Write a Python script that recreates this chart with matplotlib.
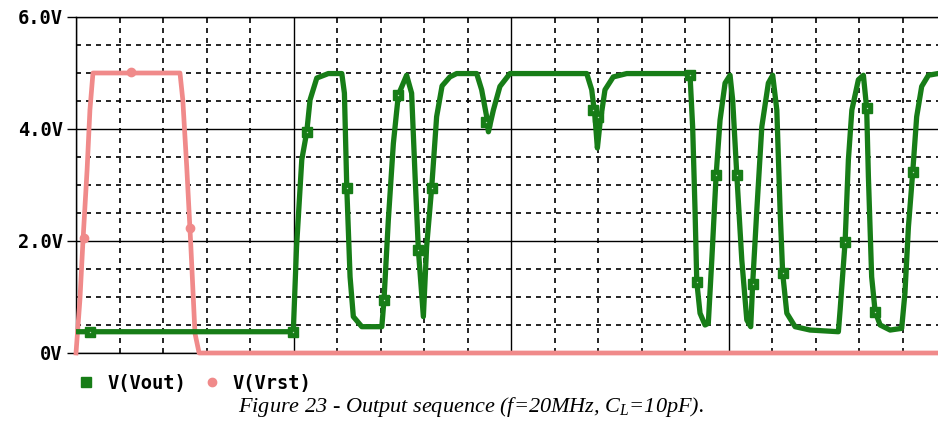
import numpy as np
import matplotlib
matplotlib.use("Agg")
import matplotlib.pyplot as plt
from matplotlib.ticker import MultipleLocator
from matplotlib.lines import Line2D

plt.rcParams['mathtext.fontset'] = 'custom'
plt.rcParams['mathtext.it'] = 'Liberation Serif:italic'
plt.rcParams['mathtext.rm'] = 'Liberation Serif:italic'

# time in ns, voltage in V
vout_t = [0, 99.9, 101.4, 103.8, 106.1, 107.6, 110.7, 116.0, 122.2, 123.4, 124.5, 126.0, 127.5,
          131.4, 140.6, 141.6, 143.6, 145.9, 148.2, 152.0, 154.3, 155.9, 157.4, 159.7, 161.2,
          163.5, 165.8, 168.3, 171.9, 175.0, 184.2, 186.5, 188.8, 189.6, 191.9, 194.9, 199.5,
          234.8, 237.1, 238.6, 239.7, 240.9, 243.2, 247.0, 253.2, 280.0, 282.3, 283.5, 284.6,
          285.4, 286.9, 289.2, 290.7, 292.3, 294.3, 296.1, 298.4, 300.7, 301.9, 303.8, 306.1,
          308.4, 310.2, 311.1, 313.0, 315.3, 318.3, 320.3, 322.2, 323.7, 324.9, 326.8, 330.6,
          337.5, 350.5, 351.3, 353.6, 355.1, 356.7, 359.7, 362.0, 363.5, 364.3, 365.8, 367.4,
          369.7, 374.3, 379.6, 381.1, 382.7, 384.7, 386.5, 388.8, 391.9, 396.3]
vout_v = [0.38, 0.38, 1.90, 3.45, 3.95, 4.52, 4.91, 4.99, 4.99, 4.64, 2.94, 1.36, 0.65,
          0.47, 0.47, 0.95, 2.38, 3.74, 4.61, 4.96, 4.64, 3.15, 1.84, 0.65, 1.90,
          2.94, 4.22, 4.77, 4.93, 4.99, 4.99, 4.70, 4.22, 3.95, 4.34, 4.76, 4.99,
          4.99, 4.70, 4.22, 3.66, 4.10, 4.70, 4.93, 4.99, 4.99, 4.96, 4.04, 2.55,
          1.27, 0.71, 0.50, 0.53, 1.66, 3.18, 4.16, 4.82, 4.96, 4.52, 3.18, 1.66,
          0.59, 0.47, 1.24, 2.55, 4.04, 4.82, 4.96, 4.34, 2.55, 1.42, 0.71, 0.47,
          0.41, 0.38, 0.77, 1.99, 3.45, 4.34, 4.88, 4.96, 4.37, 3.15, 1.36, 0.74,
          0.50, 0.41, 0.44, 1.07, 2.25, 3.24, 4.22, 4.76, 4.96, 4.99]
vout_mk_t = [6.4, 99.9, 106.1, 124.5, 141.6, 148.2, 157.4, 163.5, 188.3, 237.5, 239.8,
             282.3, 285.4, 294.3, 303.8, 311.1, 324.9, 353.6, 363.5, 367.4, 384.7]
vout_mk_v = [0.38, 0.38, 3.95, 2.94, 0.95, 4.61, 1.84, 2.94, 4.12, 4.34, 4.21,
             4.96, 1.27, 3.18, 3.18, 1.24, 1.42, 1.99, 4.37, 0.74, 3.24]

vrst_t = [0, 1.8, 3.2, 5.1, 6.4, 7.8, 47.8, 49.1, 50.9, 52.7, 54.7, 56.6, 396.3]
vrst_v = [0, 0.95, 2.0, 3.27, 4.34, 5.0, 5.0, 4.52, 3.33, 1.99, 0.35, 0, 0]
vrst_mk_t = [3.7, 25.3, 52.4]
vrst_mk_v = [2.05, 5.02, 2.23]

ytick_vals = [0, 2, 4, 6]
ytick_labels = ["0V", "2.0V", "4.0V", "6.0V"]

green = "#177d17"
pink = "#f08a8a"
mono = "DejaVu Sans Mono"

fig = plt.figure(figsize=(9.38, 4.21), dpi=100)
ax = fig.add_axes([76 / 938, 68 / 421, 1 - 76 / 938, 336 / 421])

ax.plot(vrst_t, vrst_v, color=pink, lw=3.4, zorder=3, solid_joinstyle='round', clip_on=False)
ax.plot(vrst_mk_t, vrst_mk_v, 'o', color=pink, ms=6, zorder=3)
ax.plot(vout_t, vout_v, color=green, lw=3.8, zorder=4, solid_joinstyle='round')
ax.plot(vout_mk_t, vout_mk_v, 's', color=green, ms=7, zorder=5)
ax.plot(vout_mk_t, vout_mk_v, 's', color='#b8dcb8', ms=0.9, mew=0, zorder=6)

ax.set_xlim(0, 396.3)
ax.set_ylim(0, 6)
ax.xaxis.set_major_locator(MultipleLocator(100))
ax.xaxis.set_minor_locator(MultipleLocator(20))
ax.yaxis.set_minor_locator(MultipleLocator(0.5))
ax.set_yticks(ytick_vals)
ax.set_yticklabels(ytick_labels, fontfamily=mono, fontweight='bold', fontsize=13.5)
ax.set_xticklabels([])
ax.tick_params(axis='x', which='both', length=0)
ax.tick_params(axis='y', which='major', length=6.5, width=1, pad=3, color='black')
ax.tick_params(axis='y', which='minor', length=0)

ax.grid(which='major', color='black', lw=1.0, ls='-')
ax.grid(which='minor', color='black', lw=1.2, ls=(0, (3, 3)))
ax.set_axisbelow(True)
for side in ['left', 'top', 'bottom']:
    ax.spines[side].set_color('black')
    ax.spines[side].set_linewidth(1)
ax.spines['right'].set_visible(False)

handles = [Line2D([], [], ls='none', marker='s', color=green, ms=7),
           Line2D([], [], ls='none', marker='o', color=pink, ms=6)]
leg = ax.legend(handles, ["V(Vout)", "V(Vrst)"], ncol=2, frameon=False,
                loc='upper left', bbox_to_anchor=(77 / 938, 0.112),
                bbox_transform=fig.transFigure, handlelength=1.0, handletextpad=0.6,
                columnspacing=0.9, borderpad=0, borderaxespad=0,
                prop={'family': mono, 'weight': 'bold', 'size': 13.5})

fig.text(0.502, 0.022, r"Figure 23 - Output sequence (f=20MHz, C$_L$=10pF).",
         ha='center', va='baseline', fontfamily='Liberation Serif', style='italic', fontsize=16)

fig.savefig("out.png", dpi=100)
